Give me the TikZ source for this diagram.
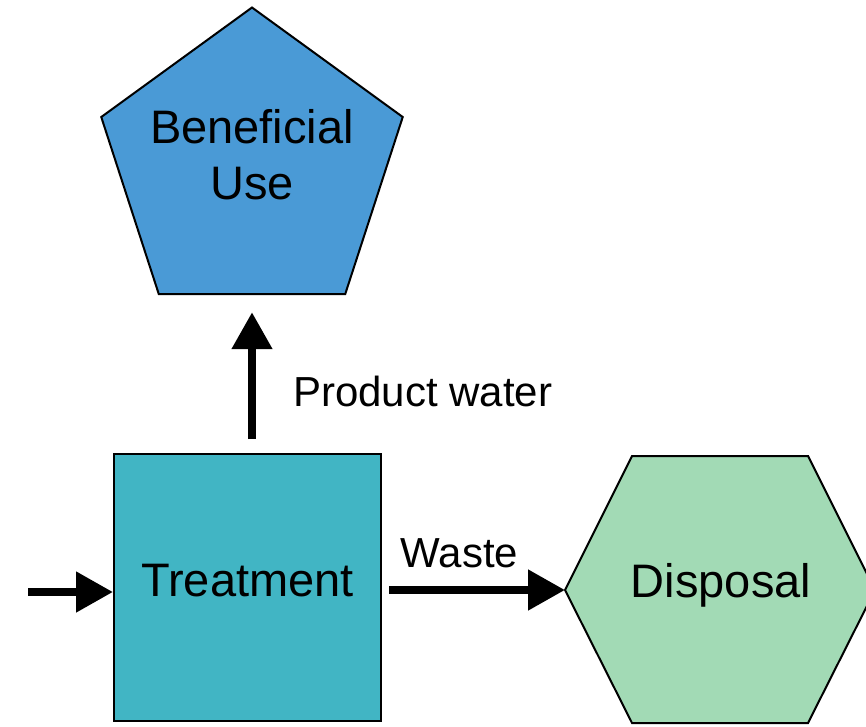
\documentclass[tikz,border=0pt]{standalone}
\usepackage{fontspec}
\setmainfont{Liberation Sans}
\definecolor{useblue}{HTML}{4A9AD6}
\definecolor{treatteal}{HTML}{41B5C4}
\definecolor{dispgreen}{HTML}{A2DAB5}
\usetikzlibrary{arrows.meta,shapes.geometric}

\begin{document}
\begin{tikzpicture}[x=1pt, y=-1pt,
    box/.style={draw=black, line width=2pt, inner sep=0pt,
                font=\fontsize{47}{56}\selectfont, align=center},
    flow/.style={line width=8pt, -{Triangle[length=37pt,width=39pt]}},
    lbl/.style={font=\fontsize{42}{50}\selectfont, inner sep=0pt}]
\useasboundingbox (0,0) rectangle (866,726);

% shapes
\node[box, fill=useblue, regular polygon, regular polygon sides=5,
      minimum size=317pt] (use) at (252,166) {};
\node[font=\fontsize{47}{56}\selectfont, align=center, inner sep=0pt]
  (usetext) at (252,155) {Beneficial\\Use};
\node[box, fill=treatteal, minimum size=267pt, text depth=15pt]
  (treat) at (247.5,587.5) {Treatment};
\coordinate (dispin) at (565,590);
\draw[line width=2pt, fill=dispgreen] (dispin) -- (632,456) -- (808,456)
  -- (875,590) -- (808,723) -- (632,723) -- cycle;
\node[font=\fontsize{47}{56}\selectfont, inner sep=0pt] (disp) at (721,585) {Disposal};

% flows
\coordinate (feed) at (28,592);
\draw[flow] (feed) -- (feed -| treat.west);
\draw[flow, shorten <=14pt, shorten >=17pt] (use.side 3 |- treat.north) -- (use.side 3);
\draw[flow, shorten <=7pt] (treat.east |- dispin) -- (dispin);

% labels
\node[lbl, anchor=west] (prod) at (293,391) {Product water};
\node[lbl] (waste) at (459.5,553) {Waste};
\end{tikzpicture}
\end{document}
